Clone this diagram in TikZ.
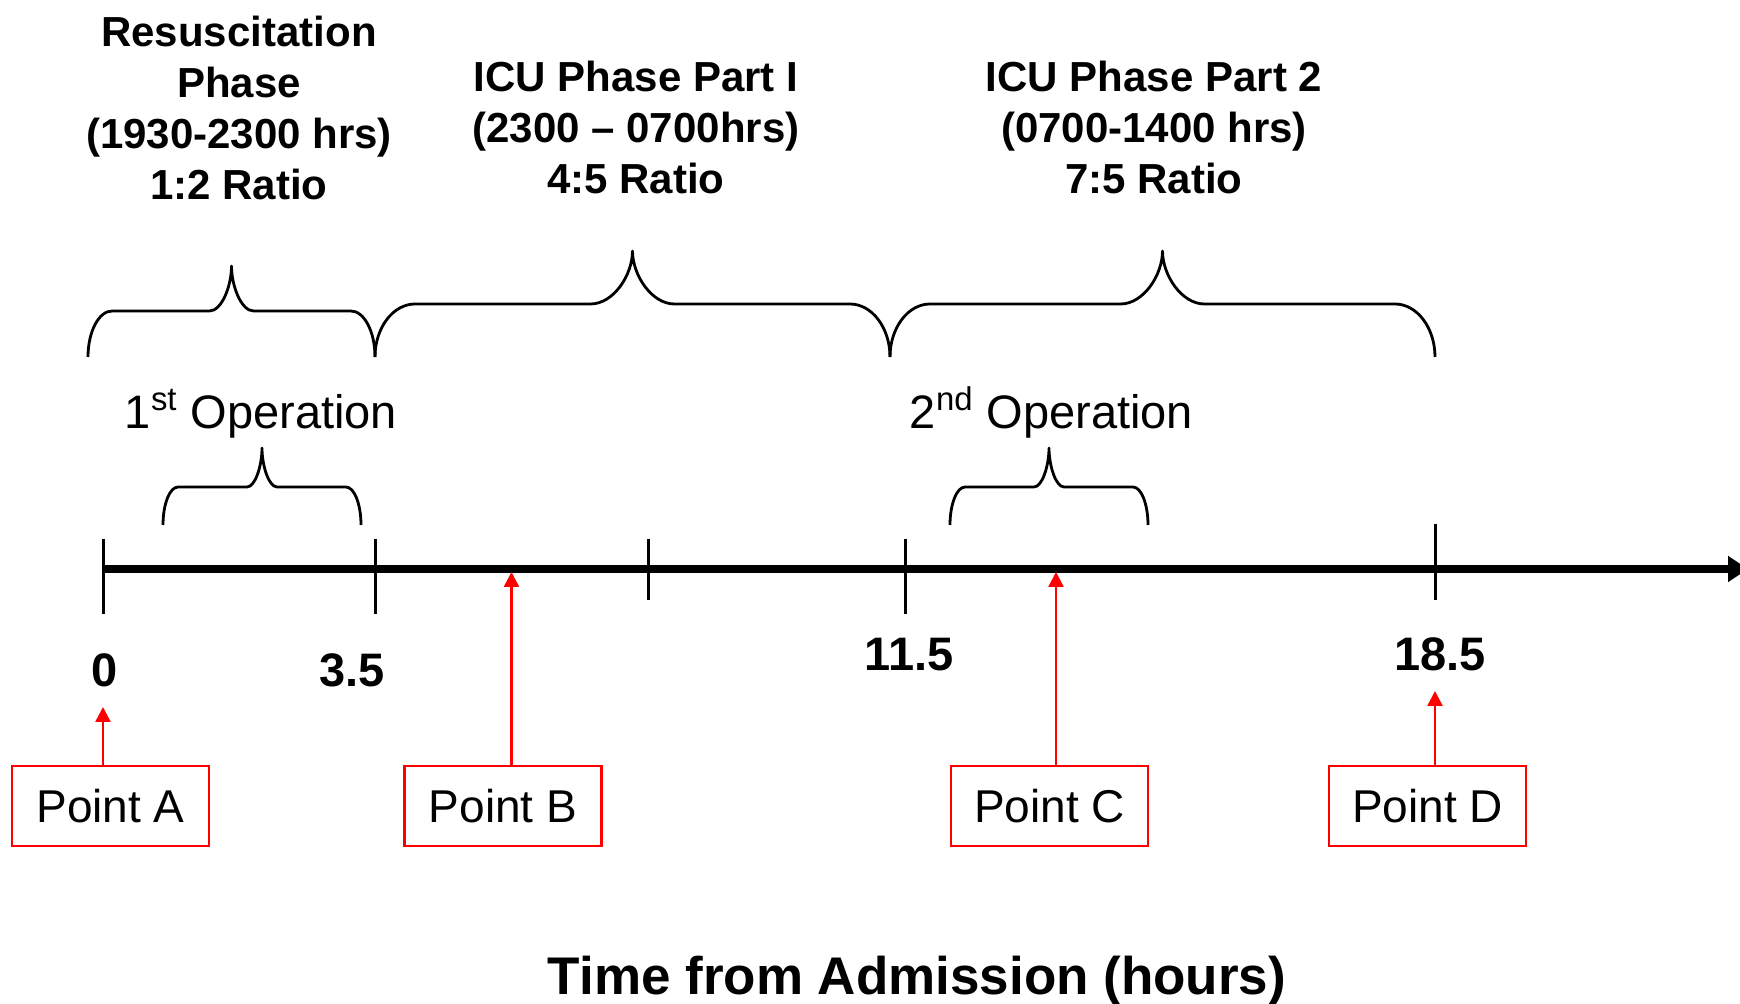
\documentclass[tikz,border=0pt]{standalone}
\usepackage{fontspec}
\setmainfont{Liberation Sans}
\usetikzlibrary{arrows.meta}
\definecolor{ptred}{RGB}{255,0,0}
% #1 x-left, #2 x-right, #3 x-centre, #4 y-ends, #5 y-flat, #6 y-tip, #7 corner width, #8 centre width
\newcommand\mybrace[8]{%
  \draw[bracel] (#1,#4) .. controls (#1,{#4-0.55*(#4-#5)}) and ({#1+0.45*#7},#5) .. ({#1+#7},#5)
    -- ({#3-#8},#5) .. controls ({#3-0.45*#8},#5) and (#3,{#5-0.55*(#5-#6)}) .. (#3,#6)
    .. controls (#3,{#5-0.55*(#5-#6)}) and ({#3+0.45*#8},#5) .. ({#3+#8},#5)
    -- ({#2-#7},#5) .. controls ({#2-0.45*#7},#5) and (#2,{#4-0.55*(#4-#5)}) .. (#2,#4);}
\begin{document}
\begin{tikzpicture}[x=0.5pt,y=-0.5pt,
  phase/.style={font=\fontsize{21}{25}\selectfont\bfseries, inner sep=0pt, anchor=base},
  tnum/.style={font=\fontsize{23.5}{28}\selectfont\bfseries, inner sep=0pt, anchor=base},
  oplabel/.style={font=\fontsize{23.5}{28}\selectfont, inner sep=0pt, anchor=base},
  ptbox/.style={draw=ptred, line width=1.25pt, minimum width=98.5pt, minimum height=40pt, inner sep=0pt, font=\fontsize{23}{27}\selectfont},
  ptarrow/.style={draw=ptred, line width=1.25pt, -{Triangle[length=7.5pt,width=7.5pt]}},
  tickln/.style={line width=1.5pt},
  bracel/.style={line width=1.4pt, line join=round},
  axisln/.style={line width=4pt, -{Triangle[length=10pt,width=12.5pt]}},
]
\fill[white] (0,0) rectangle (1740,1004);
\useasboundingbox (0,0) rectangle (1740,1004);

% phase labels
\node[phase] (res1) at (239,47) {Resuscitation};
\node[phase] (res2) at (239,98) {Phase};
\node[phase] (res3) at (239,149) {(1930-2300 hrs)};
\node[phase] (res4) at (239,200) {1:2 Ratio};
\node[phase] (icua1) at (636,92) {ICU Phase Part I};
\node[phase] (icua2) at (636,143) {(2300 – 0700hrs)};
\node[phase] (icua3) at (636,194) {4:5 Ratio};
\node[phase] (icub1) at (1154,92) {ICU Phase Part 2};
\node[phase] (icub2) at (1154,143) {(0700-1400 hrs)};
\node[phase] (icub3) at (1154,194) {7:5 Ratio};

% phase braces
\mybrace{88}{375}{231.5}{357}{311}{266}{24}{22}
\mybrace{375}{890}{632.5}{357}{304}{251}{40}{42}
\mybrace{890}{1435}{1162.5}{357}{304}{251}{40}{42}

% operations
\node[oplabel] (op1) at (261,429) {1\textsuperscript{st} Operation};
\node[oplabel] (op2) at (1051.5,429) {2\textsuperscript{nd} Operation};
\mybrace{163}{361}{262}{525}{487}{448}{15}{15}
\mybrace{950}{1148}{1049}{525}{487}{448}{15}{15}

% axis
\coordinate (t0) at (103,569);
\coordinate (t35) at (375,569);
\coordinate (t7) at (648,569);
\coordinate (t115) at (905,569);
\coordinate (t185) at (1435,569);
\coordinate (axend) at (1748,569);
\draw[axisln] (t0) -- (axend);
\draw[tickln] (t0 |- 0,539) -- (t0 |- 0,614);
\draw[tickln] (t35 |- 0,539) -- (t35 |- 0,614);
\draw[tickln] (t7 |- 0,539) -- (t7 |- 0,600);
\draw[tickln] (t115 |- 0,539) -- (t115 |- 0,614);
\draw[tickln] (t185 |- 0,524) -- (t185 |- 0,600);

% numbers
\node[tnum] (n0) at (105,687) {0};
\node[tnum] (n35) at (352,687) {3.5};
\node[tnum] (n115) at (909,671) {11.5};
\node[tnum] (n185) at (1440,671) {18.5};

% points
\node[ptbox] (pA) at (110.5,806) {Point A};
\node[ptbox] (pB) at (503,806) {Point B};
\node[ptbox] (pC) at (1049.5,806) {Point C};
\node[ptbox] (pD) at (1427.5,806) {Point D};
\coordinate (aA) at (103,707);
\coordinate (aB) at (511.5,572);
\coordinate (aC) at (1056,572);
\coordinate (aD) at (1435,691);
\draw[ptarrow] (pA.north -| aA) -- (aA);
\draw[ptarrow] (pB.north -| aB) -- (aB);
\draw[ptarrow] (pC.north -| aC) -- (aC);
\draw[ptarrow] (pD.north -| aD) -- (aD);

% axis title
\node[font=\fontsize{26.5}{32}\selectfont\bfseries, inner sep=0pt, anchor=base] (xlabel) at (917,994) {Time from Admission (hours)};
\end{tikzpicture}
\end{document}
